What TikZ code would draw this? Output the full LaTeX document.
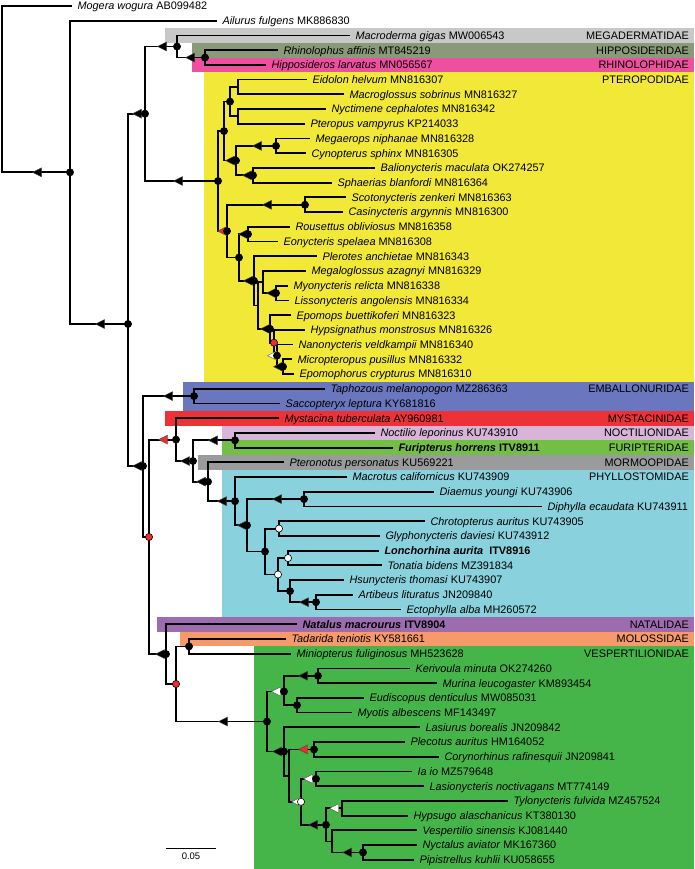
\documentclass[tikz,border=0pt]{standalone}
\usepackage{fontspec}
\setmainfont{Liberation Sans}
\usepackage{xcolor}
\definecolor{megacol}{HTML}{C8C8C8}
\definecolor{hippocol}{HTML}{889A78}
\definecolor{rhinocol}{HTML}{EE4F9E}
\definecolor{pterocol}{HTML}{F1E837}
\definecolor{embacol}{HTML}{6A76BE}
\definecolor{mystcol}{HTML}{EC3237}
\definecolor{noctcol}{HTML}{D8B4D8}
\definecolor{furicol}{HTML}{73BE44}
\definecolor{mormcol}{HTML}{9A9B9C}
\definecolor{phylcol}{HTML}{88D1DD}
\definecolor{natacol}{HTML}{9C6CAE}
\definecolor{molocol}{HTML}{F69A6C}
\definecolor{vespcol}{HTML}{45B549}
\definecolor{markred}{HTML}{EC2D2D}
\tikzstyle{br} = [line width=1.8pt]
\tikzstyle{leaf} = [anchor=west,inner sep=0pt,outer xsep=5.5pt,text height=7.8pt,text depth=0pt,font=\fontsize{10.9}{12}\selectfont]
\tikzstyle{fam} = [anchor=east,inner sep=0pt,text height=7.8pt,text depth=0pt,font=\fontsize{10.9}{12}\selectfont]
\newcommand{\bdot}[2][black]{\filldraw[fill=#1,draw=black,line width=0.6pt] (#2) circle (3.6pt);}
\newcommand{\tri}[2][black]{\filldraw[fill=#1,draw=black!70,line width=0.4pt,line join=round] (#2) ++(-4.5,0) -- ++(9,4.5) -- ++(0,-9) -- cycle;}

\begin{document}
\begin{tikzpicture}[x=1pt,y=-1pt]
\useasboundingbox (0,0) rectangle (694,869);

\foreach \xx/\ya/\yb/\col in {165/28/42.8/megacol,192/42.8/57.6/hippocol,192/57.6/72.2/rhinocol,204/72.2/381.5/pterocol,183/381.5/411/embacol,165/411/425.6/mystcol,222/425.6/440.3/noctcol,222/440.3/455/furicol,198/455/469.7/mormcol,222/469.7/617/phylcol,157/617/631.6/natacol,180/631.6/646.4/molocol,254/646.4/869/vespcol}{
	\fill[\col] (\xx,\ya) rectangle (694,\yb);
}

\foreach \lab/\yy [count=\k] in {MEGADERMATIDAE/35.4,HIPPOSIDERIDAE/50.2,RHINOLOPHIDAE/64.9,PTEROPODIDAE/79.6,EMBALLONURIDAE/388.7,MYSTACINIDAE/418.2,NOCTILIONIDAE/432.9,FURIPTERIDAE/447.6,MORMOOPIDAE/462.3,PHYLLOSTOMIDAE/477,NATALIDAE/624.2,MOLOSSIDAE/639,VESPERTILIONIDAE/653.7}{
	\node[fam] (fam\k) at (689,\yy) {\lab};
}

\foreach \nm/\xx/\lab [count=\i] in {
mogera/72/{\textit{Mogera wogura} AB099482},
ailurus/217/{\textit{Ailurus fulgens} MK886830},
macroderma/350/{\textit{Macroderma gigas} MW006543},
rhinolophus/278/{\textit{Rhinolophus affinis} MT845219},
hipposideros/266/{\textit{Hipposideros larvatus} MN056567},
eidolon/307/{\textit{Eidolon helvum} MN816307},
macroglossus/344/{\textit{Macroglossus sobrinus} MN816327},
nyctimene/326/{\textit{Nyctimene cephalotes} MN816342},
pteropus/305/{\textit{Pteropus vampyrus} KP214033},
megaerops/310/{\textit{Megaerops niphanae} MN816328},
cynopterus/306/{\textit{Cynopterus sphinx} MN816305},
balionycteris/375/{\textit{Balionycteris maculata} OK274257},
sphaerias/332/{\textit{Sphaerias blanfordi} MN816364},
scotonycteris/346/{\textit{Scotonycteris zenkeri} MN816363},
casinycteris/343/{\textit{Casinycteris argynnis} MN816300},
rousettus/290/{\textit{Rousettus obliviosus} MN816358},
eonycteris/278/{\textit{Eonycteris spelaea} MN816308},
plerotes/317/{\textit{Plerotes anchietae} MN816343},
megaloglossus/306/{\textit{Megaloglossus azagnyi} MN816329},
myonycteris/288/{\textit{Myonycteris relicta} MN816338},
lissonycteris/289/{\textit{Lissonycteris angolensis} MN816334},
epomops/291/{\textit{Epomops buettikoferi} MN816323},
hypsignathus/305/{\textit{Hypsignathus monstrosus} MN816326},
nanonycteris/293/{\textit{Nanonycteris veldkampii} MN816340},
micropteropus/292/{\textit{Micropteropus pusillus} MN816332},
epomophorus/294/{\textit{Epomophorus crypturus} MN816310},
taphozous/325/{\textit{Taphozous melanopogon} MZ286363},
saccopteryx/280/{\textit{Saccopteryx leptura} KY681816},
mystacina/279/{\textit{Mystacina tuberculata} AY960981},
noctilio/375/{\textit{Noctilio leporinus} KU743910},
furipterus/393/{\textbf{\textit{Furipterus horrens} ITV8911}},
pteronotus/284/{\textit{Pteronotus personatus} KU569221},
macrotus/347/{\textit{Macrotus californicus} KU743909},
diaemus/434/{\textit{Diaemus youngi} KU743906},
diphylla/542/{\textit{Diphylla ecaudata} KU743911},
chrotopterus/425/{\textit{Chrotopterus auritus} KU743905},
glyphonycteris/380/{\textit{Glyphonycteris daviesi} KU743912},
lonchorhina/379/{\textbf{\textit{Lonchorhina aurita}\ \ ITV8916}},
tonatia/382/{\textit{Tonatia bidens} MZ391834},
hsunycteris/344/{\textit{Hsunycteris thomasi} KU743907},
artibeus/353/{\textit{Artibeus lituratus} JN209840},
ectophylla/401/{\textit{Ectophylla alba} MH260572},
natalus/297/{\textbf{\textit{Natalus macrourus} ITV8904}},
tadarida/286/{\textit{Tadarida teniotis} KY581661},
miniopterus/291/{\textit{Miniopterus fuliginosus} MH523628},
kerivoula/410/{\textit{Kerivoula minuta} OK274260},
murina/437/{\textit{Murina leucogaster} KM893454},
eudiscopus/364/{\textit{Eudiscopus denticulus} MW085031},
myotis/352/{\textit{Myotis albescens} MF143497},
lasiurus/420/{\textit{Lasiurus borealis} JN209842},
plecotus/405/{\textit{Plecotus auritus} HM164052},
corynorhinus/439/{\textit{Corynorhinus rafinesquii} JN209841},
iaio/412/{\textit{Ia io} MZ579648},
lasionycteris/424/{\textit{Lasionycteris noctivagans} MT774149},
tylonycteris/508/{\textit{Tylonycteris fulvida} MZ457524},
hypsugo/408/{\textit{Hypsugo alaschanicus} KT380130},
vespertilio/417/{\textit{Vespertilio sinensis} KJ081440},
nyctalus/417/{\textit{Nyctalus aviator} MK167360},
pipistrellus/414/{\textit{Pipistrellus kuhlii} KU058655}}{
	\node[leaf] (\nm) at (\xx,{6+(\i-1)*14.72}) {\lab};
}

\coordinate (nroot) at (2,89);
\coordinate (n1) at (70,172.3);
\coordinate (n2) at (128,324);
\coordinate (n3) at (145,113.7);
\coordinate (n4) at (177,46.5);
\coordinate (n5) at (205,57.6);
\coordinate (n6) at (218,181);
\coordinate (nd) at (224,131.1);
\coordinate (na) at (230,101.6);
\coordinate (nb) at (238,86.9);
\coordinate (nc) at (238,116.4);
\coordinate (ne) at (236,160.6);
\coordinate (nf) at (276,145.9);
\coordinate (ng) at (253,175.3);
\coordinate (nh) at (227,231.1);
\coordinate (ni) at (305,204.8);
\coordinate (nj) at (239,257.5);
\coordinate (nk) at (248,234.2);
\coordinate (nl) at (254,280.8);
\coordinate (nm) at (258,305.5);
\coordinate (nn) at (263,282);
\coordinate (no) at (276,293.1);
\coordinate (np) at (270,328.9);
\coordinate (nq) at (274,342.7);
\coordinate (nr) at (277,355.6);
\coordinate (ns) at (283,366.7);
\coordinate (nt) at (143,466);
\coordinate (nu) at (194,396.1);
\coordinate (nv) at (149,537);
\coordinate (nw) at (176,439.6);
\coordinate (nx) at (193,461);
\coordinate (ny) at (235,440.3);
\coordinate (nz) at (208,481.7);
\coordinate (naa) at (235,501.2);
\coordinate (nab) at (247,525.3);
\coordinate (nac) at (304,499.1);
\coordinate (nad) at (265,551.5);
\coordinate (nae) at (279,528.6);
\coordinate (naf) at (278,574.5);
\coordinate (nag) at (288,558);
\coordinate (nah) at (290,591.1);
\coordinate (nai) at (316,602.2);
\coordinate (naj) at (166,654.1);
\coordinate (nak) at (176,684);
\coordinate (nal) at (189,646.4);
\coordinate (nam) at (267,721.5);
\coordinate (nan) at (284,691.5);
\coordinate (nap) at (318,675.8);
\coordinate (naq) at (297,705.2);
\coordinate (nao) at (284,751.5);
\coordinate (nar) at (289,775.6);
\coordinate (nas) at (314,749.4);
\coordinate (nat) at (301,801.8);
\coordinate (nau) at (316,778.8);
\coordinate (nav) at (326,824.8);
\coordinate (naw) at (342,808.3);
\coordinate (nay) at (332,841.4);
\coordinate (nax) at (363,852.4);

\foreach \p/\c in {nroot/mogera,nroot/n1,n1/ailurus,n1/n2,n2/n3,n2/nt,n3/n4,n3/n6,n4/macroderma,n4/n5,n5/rhinolophus,n5/hipposideros,
n6/nd,n6/nh,nd/na,nd/ne,na/nb,na/nc,nb/eidolon,nb/macroglossus,nc/nyctimene,nc/pteropus,ne/nf,ne/ng,nf/megaerops,nf/cynopterus,ng/balionycteris,ng/sphaerias,
nh/ni,nh/nj,ni/scotonycteris,ni/casinycteris,nj/nk,nj/nl,nk/rousettus,nk/eonycteris,nl/plerotes,nl/nm,nm/nn,nm/np,nn/megaloglossus,nn/no,no/myonycteris,no/lissonycteris,
np/epomops,np/nq,nq/hypsignathus,nq/nr,nr/nanonycteris,nr/ns,ns/micropteropus,ns/epomophorus,
nt/nu,nt/nv,nu/taphozous,nu/saccopteryx,nv/nw,nv/naj,nw/mystacina,nw/nx,nx/ny,nx/nz,ny/noctilio,ny/furipterus,nz/pteronotus,nz/naa,
naa/macrotus,naa/nab,nab/nac,nab/nad,nac/diaemus,nac/diphylla,nad/nae,nad/naf,nae/chrotopterus,nae/glyphonycteris,naf/nag,naf/nah,nag/lonchorhina,nag/tonatia,
nah/hsunycteris,nah/nai,nai/artibeus,nai/ectophylla,naj/natalus,naj/nak,nak/nal,nak/nam,nal/tadarida,nal/miniopterus,nam/nan,nam/nao,nan/nap,nan/naq,
nap/kerivoula,nap/murina,naq/eudiscopus,naq/myotis,nao/lasiurus,nao/nar,nar/nas,nar/nat,nas/plecotus,nas/corynorhinus,nat/nau,nat/nav,nau/iaio,nau/lasionycteris,
nav/naw,nav/nay,naw/tylonycteris,naw/hypsugo,nay/vespertilio,nay/nax,nax/nyctalus,nax/pipistrellus}{
	\draw[br] (\p) |- (\c);
}

\foreach \xx/\n in {37/n1,100/n2,137/n3,162/n4,190/n5,178/n6,230/ne,257/nf,247/ng,267/ni,243/nk,248/nl,271/no,265/np,278/ns,
137/nt,168/nu,185/nx,213/ny,201/nz,222/naa,242/nab,277/nac,304/nai,160/naj,223/nam,303/nap,277/nao,313/nav,347/nax}{
	\tri{\xx,0 |- \n}
}
\foreach \xx/\n in {222/nh,163/nw,303/nas}{
	\tri[markred]{\xx,0 |- \n}
}
\foreach \xx/\n in {272/nr,276/nan,296/nat,308/nau,334/naw}{
	\tri[white]{\xx,0 |- \n}
}

\foreach \n in {n1,n2,n3,n4,n5,n6,nd,na,ne,nf,ng,nh,ni,nj,nk,nl,no,np,nr,ns,nt,nu,nw,nx,ny,nz,naa,nab,nac,nad,nah,nai,naj,nal,nam,nan,nap,naq,nao,nas,nau,nav,nax}{
	\bdot{\n}
}
\foreach \n in {nq,nv,nak}{
	\bdot[markred]{\n}
}
\foreach \n in {nae,naf,nag,nat}{
	\bdot[white]{\n}
}

\coordinate (sbl) at (166,848);
\coordinate (sbr) at (216,848);
\draw[line width=0.8pt] (sbl) -- (sbr);
\node[font=\fontsize{9.5}{11}\selectfont] (sblab) at (191,856.5) {0.05};
\end{tikzpicture}
\end{document}
